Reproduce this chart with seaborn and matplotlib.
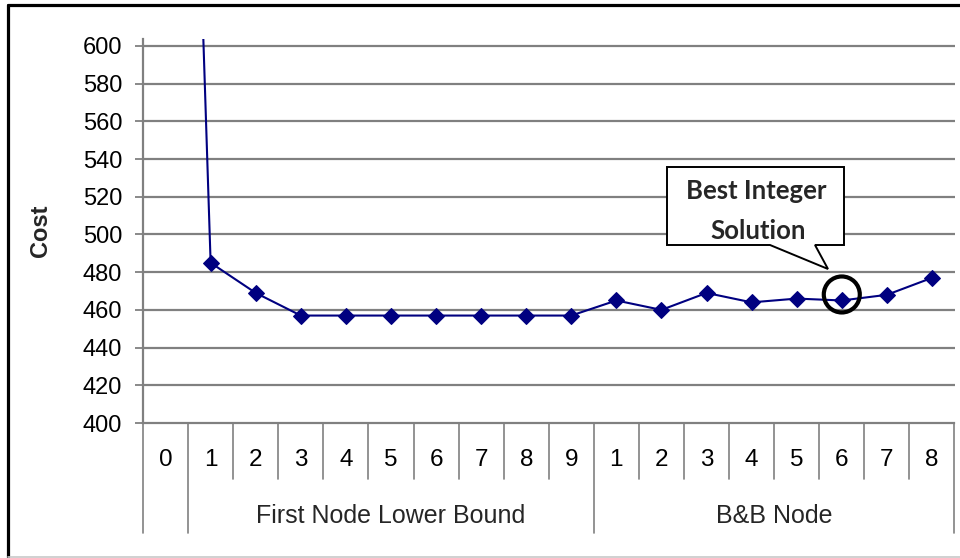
import matplotlib
matplotlib.use("Agg")
import matplotlib.pyplot as plt
from matplotlib.patches import Polygon, Ellipse
from matplotlib.lines import Line2D
import seaborn as sns
import pandas as pd

# Cost per iteration: lower-bound phase of the first node, then branch & bound nodes
lb_labels = ["0", "1", "2", "3", "4", "5", "6", "7", "8", "9"]
lb_cost = [1220, 485, 469, 457, 457, 457, 457, 457, 457, 457]
bb_labels = ["1", "2", "3", "4", "5", "6", "7", "8"]
bb_cost = [465, 460, 469, 464, 466, 465, 468, 477]
group_names = ["First Node Lower Bound", "B&B Node"]
y_ticks = [400, 420, 440, 460, 480, 500, 520, 540, 560, 580, 600]
best_index = len(lb_labels) + 5  # B&B node 6

labels = lb_labels + bb_labels
df = pd.DataFrame({"pos": list(range(len(labels))), "cost": lb_cost + bb_cost})

sns.set_theme(style="white")
plt.rcParams["font.family"] = ["Liberation Sans", "DejaVu Sans"]

W, H = 960, 558
fig = plt.figure(figsize=(W / 100, H / 100), dpi=100)
fig.patch.set_facecolor("white")

def fx(px):
    return px / W

def fy(py):
    return 1 - py / H

# axes box in pixel terms
ax_left, ax_right, ax_bottom, ax_top = 143, 954.5, 423, 39.4
ax = fig.add_axes([fx(ax_left), fy(ax_bottom), fx(ax_right - ax_left),
                   (ax_bottom - ax_top) / H])
ax.set_facecolor("white")

sns.lineplot(data=df, x="pos", y="cost", ax=ax, color="#000080",
             marker="D", markersize=8.5, markeredgecolor="#000080",
             linewidth=1.5)

FS = 17

ax.set_xlim(-0.5, len(labels) - 0.5)
ax.set_ylim(400, 603.5)
ax.set_yticks(y_ticks)
ax.set_yticklabels([str(v) for v in y_ticks], fontsize=FS)
ax.set_xticks([])
ax.set_xlabel("")
ax.set_ylabel("Cost", fontsize=17, fontweight="bold")
ax.yaxis.set_label_coords((52 - ax_left) / (ax_right - ax_left), 0.5)
ax.tick_params(axis="y", left=True, length=6, width=1.3, color="#808080",
               pad=9, labelcolor="black")

for v in y_ticks[1:]:
    ax.axhline(v, color="#808080", linewidth=1.6, zorder=0)

for s in ["top", "right"]:
    ax.spines[s].set_visible(False)
for s in ["left", "bottom"]:
    ax.spines[s].set_color("#808080")
    ax.spines[s].set_linewidth(1.6)

# multi-level category axis
px_per_ax = ax_bottom - ax_top
def afrac(py):
    return (ax_bottom - py) / px_per_ax

tr = ax.get_xaxis_transform()
long_edges = [-0.5, 0.5, len(lb_labels) - 0.5, len(labels) - 0.5]
for k in range(len(labels) + 1):
    xe = k - 0.5
    end = 533 if xe in long_edges else 479
    ax.add_line(Line2D([xe, xe], [0, afrac(end)], transform=tr, clip_on=False,
                       color="#808080", linewidth=1.2))

for i, lab in enumerate(labels):
    ax.text(i, afrac(460), lab, transform=tr, ha="center", va="center",
            fontsize=FS + 0.5, color="black")

ax.text((0.5 + len(lb_labels) - 0.5) / 2, afrac(516), group_names[0],
        transform=tr, ha="center", va="center", fontsize=FS + 1)
ax.text((len(lb_labels) - 0.5 + len(labels) - 0.5) / 2, afrac(516), group_names[1],
        transform=tr, ha="center", va="center", fontsize=FS + 1)

# callout pointing at the best integer solution
bx0, bx1, by0, by1 = 667, 844, 167, 245
callout = [(bx0, by0), (bx1, by0), (bx1, by1), (815, by1), (828, 269),
           (770, by1), (bx0, by1)]
fig.patches.append(Polygon([(fx(x), fy(y)) for x, y in callout], closed=True,
                           transform=fig.transFigure, facecolor="white",
                           edgecolor="black", linewidth=1.4, zorder=5))
fig.text(fx(756), fy(191), "Best Integer", ha="center", va="center",
         fontsize=18.5, fontweight="bold", family=["Lato", "DejaVu Sans"], zorder=6)
fig.text(fx(758), fy(231), "Solution", ha="center", va="center",
         fontsize=18.5, fontweight="bold", family=["Lato", "DejaVu Sans"], zorder=6)

# ring around the best node
disp = ax.transData.transform((best_index, bb_cost[5]))
cx, cy = fig.transFigure.inverted().transform(disp)
fig.patches.append(Ellipse((cx, cy + 6 / H), 36 / W, 36 / H,
                           transform=fig.transFigure, facecolor="none",
                           edgecolor="black", linewidth=3, zorder=6))

# chart frame
fig.lines.append(Line2D([fx(8), 1.0], [fy(4.5), fy(4.5)], transform=fig.transFigure,
                        color="black", linewidth=2.3))
fig.lines.append(Line2D([fx(8), fx(8)], [fy(4.5), fy(557)], transform=fig.transFigure,
                        color="black", linewidth=2.3))
fig.lines.append(Line2D([fx(8), 1.0], [fy(557), fy(557)], transform=fig.transFigure,
                        color="#c8c8c8", linewidth=1.2))

fig.savefig("out.png", dpi=100, facecolor="white")
